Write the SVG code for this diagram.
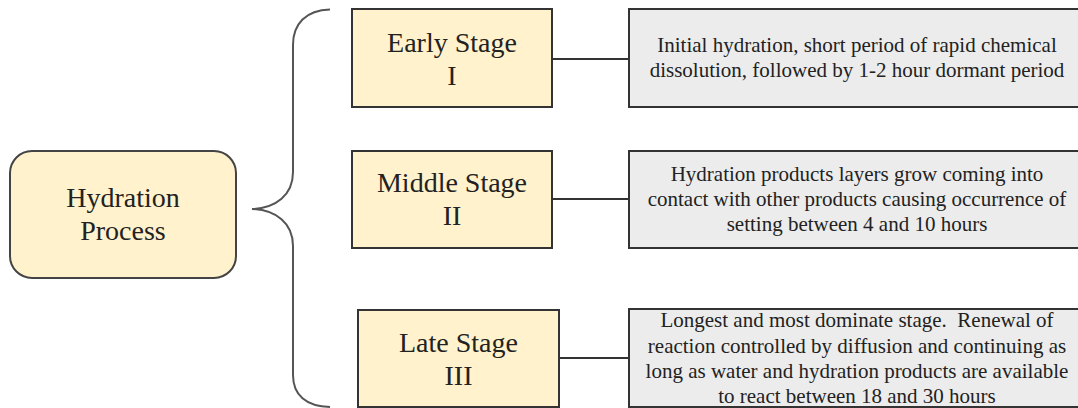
<svg xmlns="http://www.w3.org/2000/svg" width="1078" height="408" viewBox="0 0 1078 408" font-family="Liberation Serif, Times New Roman, serif">
<style>
.stage{fill:#fff2cc;stroke:#333;stroke-width:2}
.desc{fill:#ececec;stroke:#333;stroke-width:2}
.big{font-size:28px;fill:#222;text-anchor:middle}
.small{font-size:21px;fill:#222;text-anchor:middle}
.conn{stroke:#333;stroke-width:2;fill:none}
.brace{stroke:#555;stroke-width:2;fill:none}
</style>
<rect width="1078" height="408" fill="#fff"/>
<g id="hydration">
<rect x="10" y="151" width="226" height="127" rx="22" ry="22" fill="#fff2cc" stroke="#444" stroke-width="2"/>
<text class="big" x="123" y="207" font-family="Liberation Serif">Hydration</text>
<text class="big" x="123" y="240" font-family="Liberation Serif">Process</text>
</g>
<g id="early">
<rect class="stage" x="352" y="9" width="200" height="98"/>
<text class="big" x="452" y="52" font-family="Liberation Serif">Early Stage</text>
<text class="big" x="452" y="85" font-family="Liberation Serif">I</text>
</g>
<g id="middle">
<rect class="stage" x="352" y="151" width="200" height="97"/>
<text class="big" x="452" y="192" font-family="Liberation Serif">Middle Stage</text>
<text class="big" x="452" y="225" font-family="Liberation Serif">II</text>
</g>
<g id="late">
<rect class="stage" x="358" y="310" width="201" height="97"/>
<text class="big" x="458.5" y="352" font-family="Liberation Serif">Late Stage</text>
<text class="big" x="458.5" y="385" font-family="Liberation Serif">III</text>
</g>
<g id="early-desc">
<rect class="desc" x="629" y="9" width="456" height="98"/>
<text class="small" x="857" y="51.5" font-family="Liberation Serif">Initial hydration, short period of rapid chemical</text>
<text class="small" x="857" y="76.5" font-family="Liberation Serif">dissolution, followed by 1-2 hour dormant period</text>
</g>
<g id="middle-desc">
<rect class="desc" x="629" y="151" width="456" height="97"/>
<text class="small" x="857" y="181" font-family="Liberation Serif">Hydration products layers grow coming into</text>
<text class="small" x="857" y="206" font-family="Liberation Serif">contact with other products causing occurrence of</text>
<text class="small" x="857" y="231" font-family="Liberation Serif">setting between 4 and 10 hours</text>
</g>
<g id="late-desc">
<rect class="desc" x="629" y="309" width="456" height="98"/>
<text class="small" x="857" y="327" font-family="Liberation Serif" xml:space="preserve">Longest and most dominate stage.  Renewal of</text>
<text class="small" x="857" y="352.5" font-family="Liberation Serif">reaction controlled by diffusion and continuing as</text>
<text class="small" x="857" y="377.5" font-family="Liberation Serif">long as water and hydration products are available</text>
<text class="small" x="857" y="402.5" font-family="Liberation Serif">to react between 18 and 30 hours</text>
</g>
<g id="connectors">
<path class="brace" d="M330,9.5 C306,10 293,24 293,45 L293,172 C293,195 276,208 252,209 C276,210 293,223 293,246 L293,375 C293,395 306,406.5 330,407"/>
<line class="conn" x1="552" y1="59" x2="629" y2="59"/>
<line class="conn" x1="552" y1="199" x2="629" y2="199"/>
<line class="conn" x1="559" y1="358" x2="629" y2="358"/>
</g>
</svg>
